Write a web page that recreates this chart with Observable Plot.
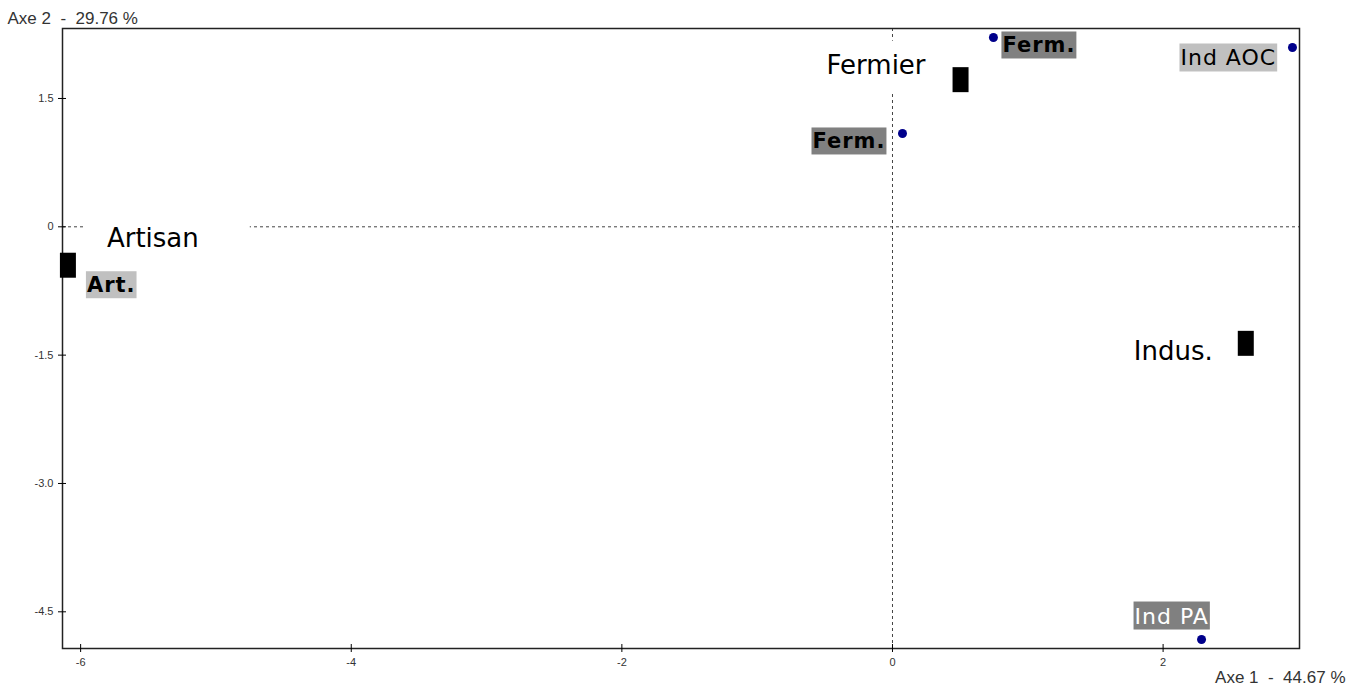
<!DOCTYPE html>
<html><head><meta charset="utf-8">
<script src="https://cdn.jsdelivr.net/npm/d3@7"></script>
<script src="https://cdn.jsdelivr.net/npm/@observablehq/plot@0.6"></script>
<style>body{margin:0;background:#fff}svg{display:block}</style>
</head><body><div id="chart"></div>
<script>
// Individuals (blue dots)
const indNames = ["Ferm.", "Ferm.", "Ind AOC", "Ind PA", "Art."];
const indAxe1 = [0.746, 0.074, 2.956, 2.284, -6.094];
const indAxe2 = [2.213, 1.091, 2.096, -4.824, -0.449];
// Group centroids (black squares)
const grpNames = ["Fermier", "Artisan", "Indus."];
const grpAxe1 = [0.503, -6.094, 2.611];
const grpAxe2 = [1.72, -0.449, -1.362];
// Axes
const xTicks = [-6, -4, -2, 0, 2];
const xTickLabels = ["-6", "-4", "-2", "0", "2"];
const yTicks = [-4.5, -3.0, -1.5, 0, 1.5];
const yTickLabels = ["-4.5", "-3.0", "-1.5", "0", "1.5"];
const xDomain = [-6.134, 3.008];
const yDomain = [-4.929, 2.318];
const axe1Title = "Axe 1  -  44.67 %";
const axe2Title = "Axe 2  -  29.76 %";

// label layout (pixel offsets / styles)
const indStyle = [
  {dx: 9, dy: 15, bg: "#808080", fill: "#000", weight: "bold", size: 21},
  {dx: -90, dy: 15, bg: "#808080", fill: "#000", weight: "bold", size: 21},
  {dx: -112, dy: 18, bg: "#c0c0c0", fill: "#000", weight: "normal", size: 22},
  {dx: -67, dy: -16, bg: "#808080", fill: "#fff", weight: "normal", size: 22},
  {dx: 19, dy: 27, bg: "#c0c0c0", fill: "#000", weight: "bold", size: 21}
];
const grpStyle = [
  {dx: -134, dy: -6, pad: [9, 2, 12, 2]},
  {dx: 39, dy: -18, pad: [8, 51, 8, 22]},
  {dx: -112, dy: 17, pad: [0, 0, 0, 0]}
];

const square = {
  draw(ctx) {
    ctx.moveTo(-8, -12.5); ctx.lineTo(8, -12.5); ctx.lineTo(8, 12.5); ctx.lineTo(-8, 12.5); ctx.closePath();
  }
};

const indIdx = indNames.map((_, i) => i);
const grpIdx = grpNames.map((_, i) => i);

const labelSpecs = [];
const labelMarks = [];
indIdx.forEach(i => {
  const s = indStyle[i];
  labelSpecs.push({name: indNames[i], bg: s.bg, pad: [2, 1, 1, 1], ls: "1px"});
  labelMarks.push(Plot.text([i], {
    x: j => indAxe1[j], y: j => indAxe2[j], text: j => indNames[j],
    dx: s.dx, dy: s.dy, textAnchor: "start", lineAnchor: "bottom",
    fontFamily: "DejaVu Sans", fontSize: s.size, fontWeight: s.weight, fill: s.fill
  }));
});
grpIdx.forEach(i => {
  const s = grpStyle[i];
  labelSpecs.push({name: grpNames[i], bg: "#fff", pad: s.pad, ls: null});
  labelMarks.push(Plot.text([i], {
    x: j => grpAxe1[j], y: j => grpAxe2[j], text: j => grpNames[j],
    dx: s.dx, dy: s.dy, textAnchor: "start", lineAnchor: "bottom",
    fontFamily: "DejaVu Sans", fontSize: 26, fill: "#000"
  }));
});

const chart = Plot.plot({
  width: 1365, height: 688,
  marginLeft: 62, marginRight: 66, marginTop: 28, marginBottom: 40,
  style: {fontFamily: "Liberation Sans", fontSize: "11px", background: "#fff"},
  x: {domain: xDomain, axis: null},
  y: {domain: yDomain, axis: null},
  marks: [
    Plot.ruleX([0], {stroke: "#444", strokeDasharray: "3,3"}),
    Plot.ruleY([0], {stroke: "#444", strokeDasharray: "3,3"}),
    Plot.frame({stroke: "#222", strokeWidth: 1.5}),
    Plot.axisX(xTicks, {tickSize: 8, dy: -4, text: null, stroke: "#000"}),
    Plot.axisX(xTicks, {tickSize: 0, tickPadding: 10, fill: "#333",
      tickFormat: d => xTickLabels[xTicks.indexOf(d)]}),
    Plot.axisY(yTicks, {tickSize: 8, dx: 4, text: null, stroke: "#000"}),
    Plot.axisY(yTicks, {tickSize: 0, tickPadding: 9, fill: "#333",
      tickFormat: d => yTickLabels[yTicks.indexOf(d)]}),
    Plot.dot(indIdx, {x: i => indAxe1[i], y: i => indAxe2[i], r: 4.5, fill: "#00008b", stroke: "none"}),
    Plot.dot(grpIdx, {x: i => grpAxe1[i], y: i => grpAxe2[i], symbol: square, r: 5, fill: "#000", stroke: "none"}),
    ...labelMarks,
    Plot.text([axe2Title], {text: d => d, frameAnchor: "top-left", textAnchor: "start", lineAnchor: "bottom",
      dx: -55, dy: -5, fontSize: 17, fill: "#333"}),
    Plot.text([axe1Title], {text: d => d, frameAnchor: "bottom-right", textAnchor: "end", lineAnchor: "bottom",
      dx: 46, dy: 34, fontSize: 17, fill: "#333"})
  ]
});
document.getElementById("chart").append(chart);

// label background boxes
function addBox(t, spec) {
  if (spec.ls) t.style.letterSpacing = spec.ls;
  const bb = t.getBBox();
  const [pt, pr, pb, pl] = spec.pad;
  const r = document.createElementNS("http://www.w3.org/2000/svg", "rect");
  r.setAttribute("x", bb.x - pl);
  r.setAttribute("y", bb.y - pt);
  r.setAttribute("width", bb.width + pl + pr);
  r.setAttribute("height", bb.height + pt + pb);
  r.setAttribute("fill", spec.bg);
  r.setAttribute("stroke", "none");
  const tr = t.getAttribute("transform");
  if (tr) r.setAttribute("transform", tr);
  t.parentNode.insertBefore(r, t);
}
let k = 0;
Array.from(chart.querySelectorAll("text")).forEach(t => {
  if (k < labelSpecs.length && t.textContent === labelSpecs[k].name) {
    addBox(t, labelSpecs[k]);
    k++;
  }
});
</script>
</body></html>
